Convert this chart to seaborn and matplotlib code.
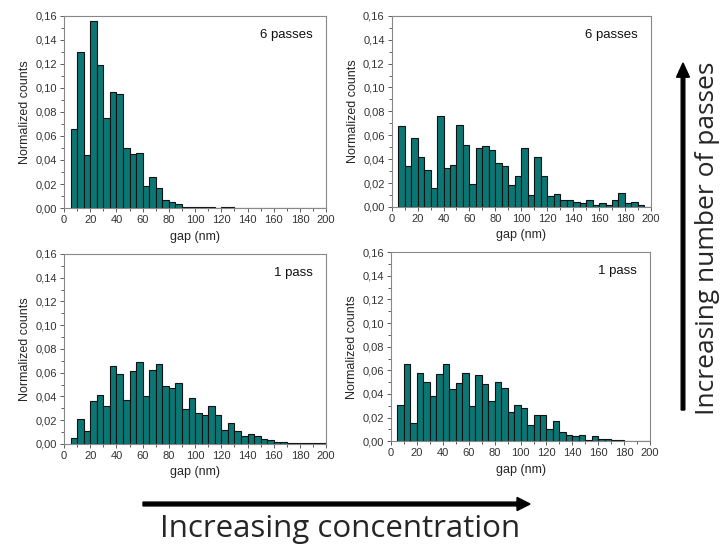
import numpy as np
import pandas as pd
import matplotlib
matplotlib.use('Agg')
import matplotlib.pyplot as plt
from matplotlib.ticker import MultipleLocator, FuncFormatter
import seaborn as sns

sns.set_style('white')
plt.rcParams['font.family'] = ['Liberation Sans', 'DejaVu Sans']

# 5 nm bins from 5 to 200 nm, values read at bin centres
bin_edges = list(range(5, 205, 5))
centers = [e + 2.5 for e in bin_edges[:-1]]

# top-left: low concentration, 6 passes
lowconc_6p = [0.066, 0.130, 0.044, 0.156, 0.119, 0.075, 0.097, 0.095, 0.050, 0.045,
              0.046, 0.018, 0.026, 0.017, 0.007, 0.005, 0.003, 0.001, 0.001, 0.001,
              0.001, 0.0005, 0.0, 0.0005, 0.0005, 0, 0, 0, 0, 0,
              0, 0, 0, 0, 0, 0, 0, 0, 0]
# top-right: high concentration, 6 passes
highconc_6p = [0.068, 0.034, 0.058, 0.042, 0.031, 0.016, 0.076, 0.033, 0.035, 0.069,
               0.052, 0.019, 0.049, 0.051, 0.048, 0.037, 0.034, 0.018, 0.026, 0.049,
               0.010, 0.042, 0.026, 0.009, 0.011, 0.006, 0.006, 0.004, 0.003, 0.006,
               0.002, 0.003, 0.002, 0.006, 0.012, 0.003, 0.004, 0.002, 0.0]
# bottom-left: low concentration, 1 pass
lowconc_1p = [0.005, 0.021, 0.011, 0.036, 0.041, 0.032, 0.066, 0.059, 0.037, 0.061,
              0.069, 0.040, 0.062, 0.067, 0.049, 0.047, 0.051, 0.029, 0.039, 0.026,
              0.024, 0.032, 0.024, 0.012, 0.018, 0.011, 0.007, 0.008, 0.007, 0.004,
              0.003, 0.002, 0.002, 0.001, 0.001, 0.0005, 0.0005, 0.0005, 0.0005]
# bottom-right: high concentration, 1 pass
highconc_1p = [0.031, 0.065, 0.015, 0.058, 0.050, 0.038, 0.057, 0.065, 0.044, 0.049,
               0.058, 0.030, 0.056, 0.048, 0.034, 0.050, 0.045, 0.025, 0.031, 0.028,
               0.014, 0.022, 0.022, 0.010, 0.017, 0.008, 0.005, 0.004, 0.005, 0.001,
               0.004, 0.002, 0.002, 0.001, 0.001, 0.0, 0.0, 0.0, 0.0]

panels = [
    (lowconc_6p, '6 passes', [0.089, 0.619, 0.364, 0.352]),
    (highconc_6p, '6 passes', [0.544, 0.621, 0.360, 0.350]),
    (lowconc_1p, '1 pass', [0.089, 0.187, 0.364, 0.348]),
    (highconc_1p, '1 pass', [0.543, 0.192, 0.360, 0.346]),
]

bar_color = '#0a7774'
comma_fmt = FuncFormatter(lambda v, p: f'{v:.2f}'.replace('.', ','))

fig = plt.figure(figsize=(7.2, 5.46), dpi=100)

for vals, label, rect in panels:
    ax = fig.add_axes(rect)
    df = pd.DataFrame({'gap': centers, 'counts': vals})
    sns.histplot(data=df, x='gap', weights='counts', bins=bin_edges, ax=ax,
                 color=bar_color, alpha=1, edgecolor='#111111', linewidth=0.8)
    ax.set_xlim(0, 200)
    ax.set_ylim(0, 0.16)
    ax.xaxis.set_major_locator(MultipleLocator(20))
    ax.xaxis.set_minor_locator(MultipleLocator(10))
    ax.yaxis.set_major_locator(MultipleLocator(0.02))
    ax.yaxis.set_minor_locator(MultipleLocator(0.01))
    ax.yaxis.set_major_formatter(comma_fmt)
    ax.tick_params(which='major', direction='out', length=3, width=0.6,
                   labelsize=8, colors='#444444', labelcolor='#333333', pad=2)
    ax.tick_params(which='minor', direction='out', length=2, width=0.6, colors='#444444')
    ax.tick_params(left=True, bottom=True, which='both')
    for s in ax.spines.values():
        s.set_color('#888888')
        s.set_linewidth(0.8)
    ax.set_xlabel('gap (nm)', fontsize=9, labelpad=4)
    ax.set_ylabel('Normalized counts', fontsize=9, labelpad=3)
    ax.text(0.95, 0.9, label, transform=ax.transAxes, ha='right', va='center',
            fontsize=9.5, color='#111111')

# annotation arrows
fig.patches.append(matplotlib.patches.FancyArrow(
    143 / 720, 1 - 504 / 546, (530 - 143) / 720, 0, width=0.007,
    head_width=0.024, head_length=0.018, length_includes_head=True,
    color='black', transform=fig.transFigure, figure=fig))
fig.patches.append(matplotlib.patches.FancyArrow(
    683 / 720, 1 - 410 / 546, 0, (410 - 63) / 546, width=0.005,
    head_width=0.018, head_length=0.026, length_includes_head=True,
    color='black', transform=fig.transFigure, figure=fig))

fig.text(340 / 720, 1 - 537 / 546, 'Increasing concentration', ha='center', va='baseline',
         fontsize=22.5, family=['Open Sans', 'DejaVu Sans'])
fig.text(707 / 720, 1 - 238 / 546, 'Increasing number of passes', ha='center', va='center',
         rotation=90, fontsize=19, family=['Open Sans', 'DejaVu Sans'])

fig.savefig('out.png', dpi=100)
